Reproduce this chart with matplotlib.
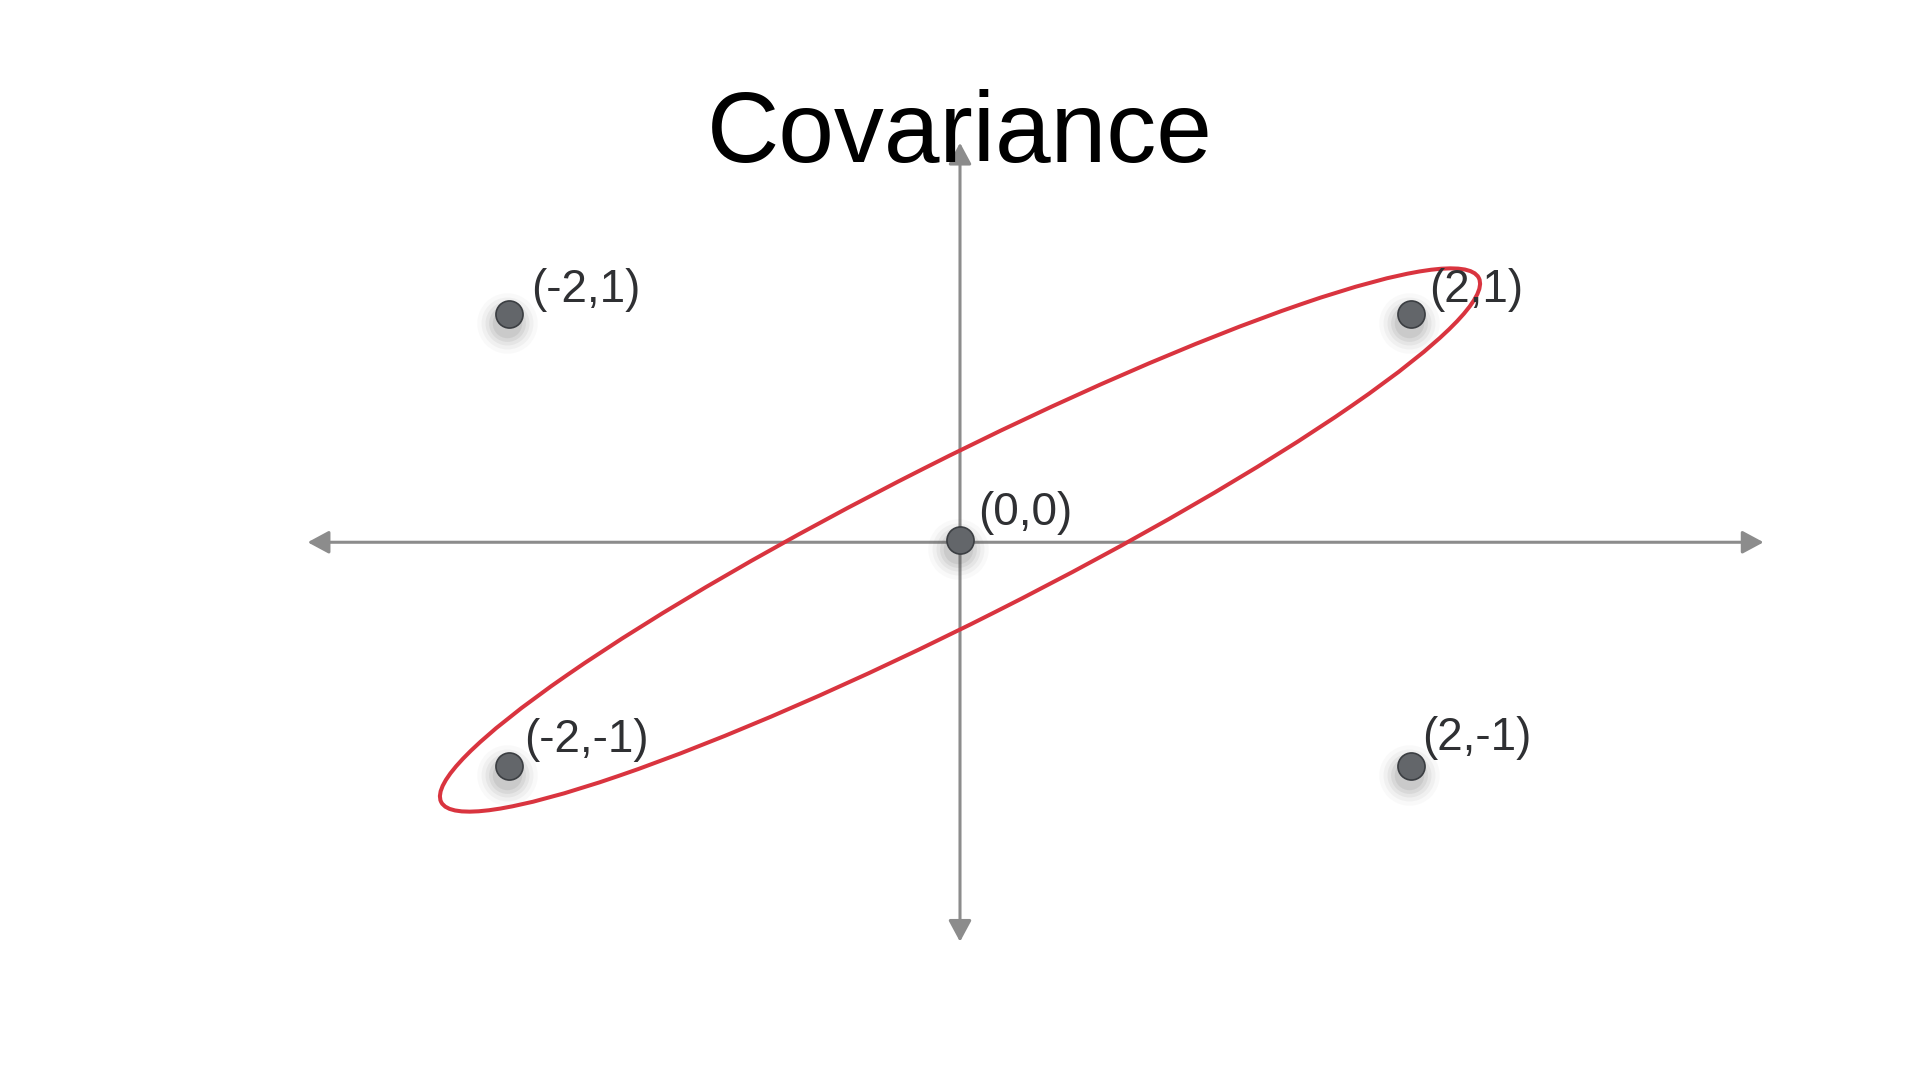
import matplotlib.pyplot as plt
from matplotlib.patches import Ellipse
import matplotlib.transforms as mtransforms

plt.rcParams['font.family'] = ['Liberation Sans', 'DejaVu Sans']

# data points and their labels
xs = [-2, 2, 0, -2, 2]
ys = [1, 1, 0, -1, -1]
labels = ['(-2,1)', '(2,1)', '(0,0)', '(-2,-1)', '(2,-1)']

# ellipse around the correlated points
ell_center = (0, 0)
ell_width = 5.15
ell_height = 0.71
ell_angle = 26.8

# axis arrow extents
x_axis = (-2.89, 3.56)
y_axis = (-1.78, 1.76)

fig = plt.figure(figsize=(19.2, 10.8), dpi=100)
ax = fig.add_axes([0, 0, 1, 1])
ax.set_xlim(-4.253, 4.253)
ax.set_ylim(-2.3925, 2.3925)
ax.axis('off')

grey = '#8c8c8c'
arrow_style = '<|-|>,head_length=1.3,head_width=0.7'
ax.annotate('', xy=(x_axis[1], -0.01), xytext=(x_axis[0], -0.01),
            arrowprops=dict(arrowstyle=arrow_style, color=grey, lw=2.2,
                            shrinkA=0, shrinkB=0, mutation_scale=10))
ax.annotate('', xy=(0, y_axis[1]), xytext=(0, y_axis[0]),
            arrowprops=dict(arrowstyle=arrow_style, color=grey, lw=2.2,
                            shrinkA=0, shrinkB=0, mutation_scale=10))

ax.add_patch(Ellipse(ell_center, ell_width, ell_height, angle=ell_angle,
                     fill=False, edgecolor='#d9343f', lw=2.9, zorder=3))

# soft shadow under the points
shadow = mtransforms.offset_copy(ax.transData, fig=fig, x=-2, y=-9, units='dots')
for s, a in [(1900, 0.03), (1400, 0.05), (1000, 0.07), (700, 0.09), (450, 0.1)]:
    ax.scatter(xs, ys, s=s, color='#555555', alpha=a, lw=0, transform=shadow, zorder=4)

ax.scatter(xs, ys, s=380, color='#63666a', edgecolor='#3b3e42', lw=1.2, zorder=5)

offsets = [(16, 9), (13, 9), (13, 11), (11, 10), (8, 11)]
for x, y, lab, off in zip(xs, ys, labels, offsets):
    ax.annotate(lab, (x, y), xytext=off, textcoords='offset points',
                ha='left', va='baseline', fontsize=33, color='#2f3033', zorder=6)

fig.text(0.5, 1 - 162 / 1080, 'Covariance', ha='center', va='baseline',
         fontsize=72, color='black')

fig.savefig('out.png', dpi=100, facecolor='white')
